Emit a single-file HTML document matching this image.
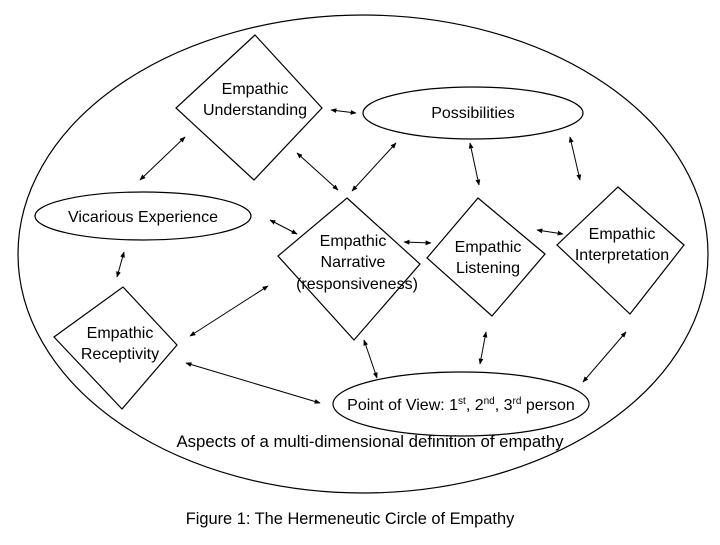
<!DOCTYPE html>
<html><head><meta charset="utf-8"><style>
html,body{margin:0;padding:0;background:#fff;}
svg text{font-family:"Liberation Sans",sans-serif;font-size:16px;fill:#000;text-anchor:middle;}
</style></head><body>
<svg width="720" height="540" viewBox="0 0 720 540" xmlns="http://www.w3.org/2000/svg">
<defs>
<marker id="a" viewBox="0 0 10 10" refX="9" refY="5" markerWidth="6" markerHeight="6" orient="auto-start-reverse"><path d="M0,1 L10,5 L0,9 z" fill="#000"/></marker>
</defs>
<g fill="none" stroke="#000" stroke-width="1.2">
<ellipse cx="363" cy="254" rx="345" ry="239"/>
<polygon points="255,35 322,108 254,180 176,108"/>
<polygon points="347,198 420,264 354,340 278,256"/>
<polygon points="478,198 545,254 492,316 427,258"/>
<polygon points="618,187 684,245 630,314 557,245"/>
<polygon points="123,287 177,345 122,409 54,337"/>
<ellipse cx="473" cy="113" rx="110" ry="26"/>
<ellipse cx="143" cy="216" rx="108" ry="24"/>
<ellipse cx="461" cy="404" rx="128" ry="32"/>
</g>
<g stroke="#000" stroke-width="1" marker-start="url(#a)" marker-end="url(#a)">
<line x1="331" y1="110" x2="356" y2="113"/>
<line x1="140" y1="180" x2="185" y2="137"/>
<line x1="297" y1="153" x2="338" y2="190"/>
<line x1="396" y1="143" x2="352" y2="191"/>
<line x1="470" y1="143" x2="479" y2="185"/>
<line x1="570" y1="137" x2="580" y2="180"/>
<line x1="270" y1="220" x2="297" y2="234"/>
<line x1="404" y1="242" x2="431" y2="243"/>
<line x1="537" y1="230" x2="563" y2="234"/>
<line x1="124" y1="252" x2="117" y2="277"/>
<line x1="190" y1="336" x2="268" y2="286"/>
<line x1="186" y1="363" x2="320" y2="403"/>
<line x1="364" y1="340" x2="377" y2="378"/>
<line x1="486" y1="332" x2="480" y2="364"/>
<line x1="626" y1="332" x2="583" y2="382"/>
</g>
<text x="255" y="94">Empathic</text>
<text x="255" y="115">Understanding</text>
<text x="473" y="118">Possibilities</text>
<text x="143" y="222">Vicarious Experience</text>
<text x="353" y="246">Empathic</text>
<text x="353" y="267">Narrative</text>
<text x="357" y="289">(responsiveness)</text>
<text x="488" y="252">Empathic</text>
<text x="488" y="273">Listening</text>
<text x="622" y="239">Empathic</text>
<text x="622" y="260">Interpretation</text>
<text x="120" y="338">Empathic</text>
<text x="120" y="359">Receptivity</text>
<text x="461" y="410">Point of View: 1<tspan font-size="10" dy="-6">st</tspan><tspan dy="6">, 2</tspan><tspan font-size="10" dy="-6">nd</tspan><tspan dy="6">, 3</tspan><tspan font-size="10" dy="-6">rd</tspan><tspan dy="6"> person</tspan></text>
<text x="370" y="447" style="font-size:16.8px">Aspects of a multi-dimensional definition of empathy</text>
<text x="350" y="524" style="font-size:16.4px">Figure 1: The Hermeneutic Circle of Empathy</text>
</svg>
</body></html>
